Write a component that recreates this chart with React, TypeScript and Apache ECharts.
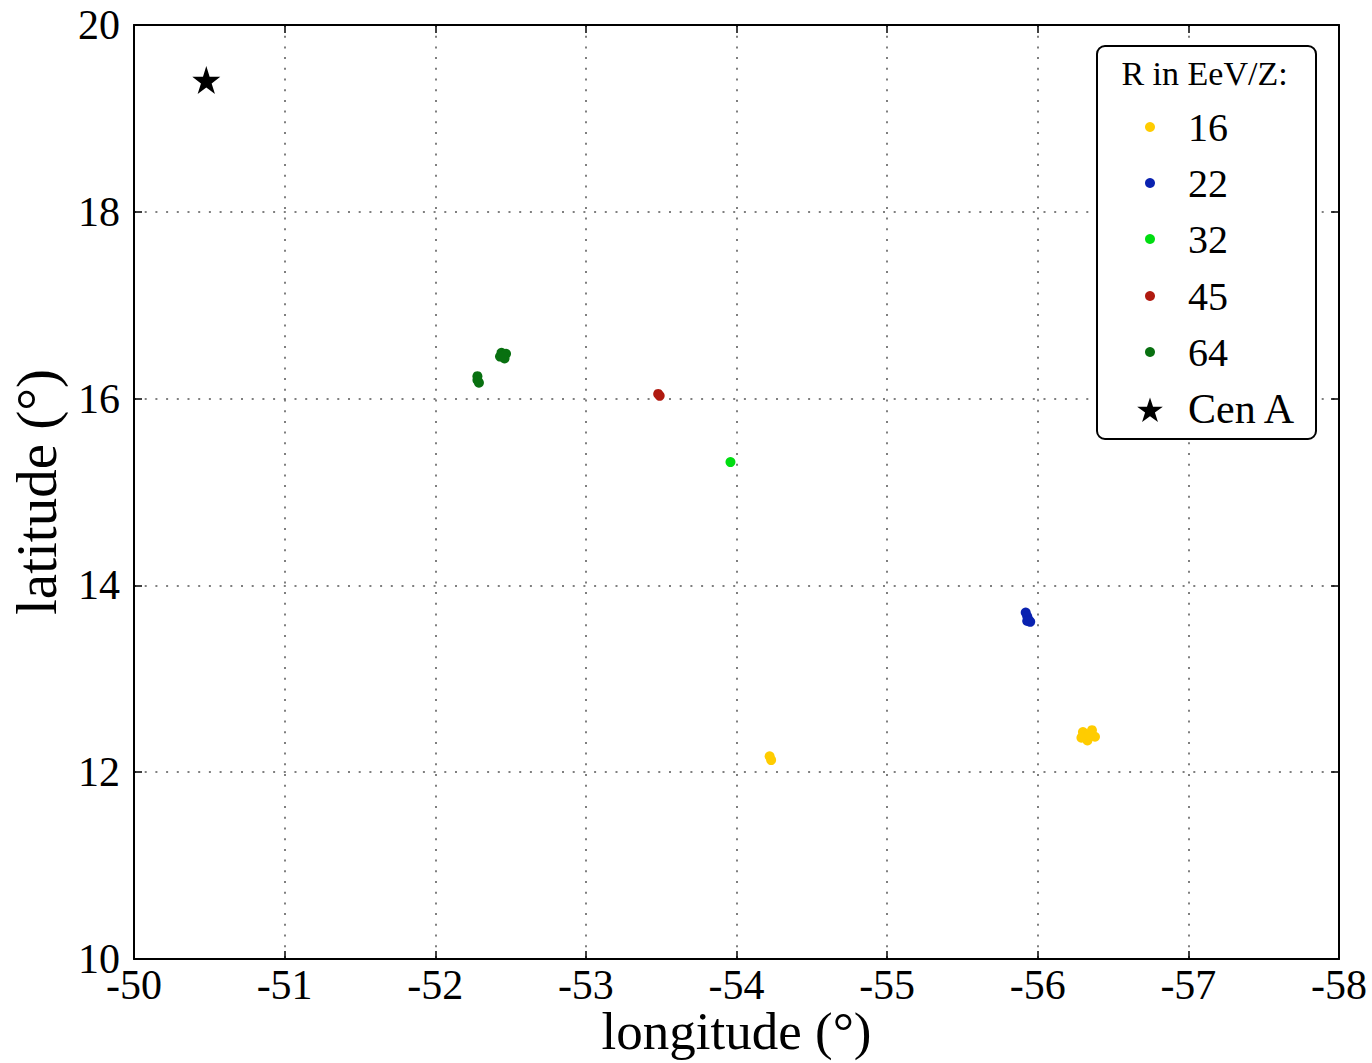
import React, { useEffect, useRef } from "react";
import * as echarts from "echarts";

// ---- data (longitude, latitude in degrees) ----
const legendTitle = "R in EeV/Z:";
const rigidityLabels = ["16", "22", "32", "45", "64"];
const seriesColors = ["#FFCC00", "#0A22B0", "#00DD11", "#B01A10", "#087010"];

const points16 = [
  [-56.30, 12.43], [-56.36, 12.45], [-56.38, 12.38], [-56.33, 12.34], [-56.29, 12.37], [-56.34, 12.40],
  [-54.22, 12.17], [-54.23, 12.13],
];
const points22 = [[-55.92, 13.71], [-55.93, 13.67], [-55.94, 13.63], [-55.95, 13.61], [-55.93, 13.62]];
const points32 = [[-53.96, 15.32]];
const points45 = [[-53.48, 16.05], [-53.49, 16.03]];
const points64 = [
  [-52.44, 16.49], [-52.47, 16.48], [-52.43, 16.45], [-52.46, 16.43], [-52.45, 16.46],
  [-52.28, 16.24], [-52.28, 16.20], [-52.29, 16.17],
];
const cenA = [[-50.48, 19.41]];
const cenALabel = "Cen A";

const xTickMin = -58;
const xTickMax = -50;
const yTickMin = 10;
const yTickMax = 20;

const allSeries = [points16, points22, points32, points45, points64];

function starPoints(cx: number, cy: number, R: number): number[][] {
  const pts: number[][] = [];
  const r = R * 0.382;
  for (let k = 0; k < 10; k++) {
    const a = (-90 + k * 36) * Math.PI / 180;
    const rr = k % 2 === 0 ? R : r;
    pts.push([cx + rr * Math.cos(a), cy + rr * Math.sin(a)]);
  }
  return pts;
}
const starPath = "path://" + starPoints(50, 50, 50).map((p, i) => (i === 0 ? "M" : "L") + p[0].toFixed(2) + " " + p[1].toFixed(2)).join(" ") + " Z";

const SERIF = "'Liberation Serif', 'DejaVu Serif', serif";

export default function App() {
  const ref = useRef<HTMLDivElement>(null);
  useEffect(() => {
    if (!ref.current) return;
    const chart = echarts.init(ref.current, undefined, { renderer: "svg" });
    const gridLine = { show: true, lineStyle: { color: "#555", width: 1.5, type: [2, 8.7] as any } };
    const tick = { show: true, inside: true, length: 8, lineStyle: { color: "#000", width: 1.5 } };
    const axLine = { show: true, lineStyle: { color: "#000", width: 2 } };
    const labelStyle = { fontFamily: SERIF, fontSize: 42, lineHeight: 38, color: "#000" };

    const legendX = 1097, legendY = 46, legendW = 219, legendH = 393;
    const itemYs = [127, 183, 239, 296, 352];
    const graphics: any[] = [
      {
        type: "rect", z: 100,
        shape: { x: legendX, y: legendY, width: legendW, height: legendH, r: 8 },
        style: { fill: "#fff", stroke: "#000", lineWidth: 2 },
      },
      {
        type: "text", z: 101, x: legendX + legendW / 2 - 2, y: 73,
        style: { text: legendTitle, font: `34px ${SERIF}`, fill: "#000", align: "center", verticalAlign: "middle" },
      },
    ];
    rigidityLabels.forEach((lab, i) => {
      graphics.push({ type: "circle", z: 101, shape: { cx: 1150, cy: itemYs[i], r: 5 }, style: { fill: seriesColors[i] } });
      graphics.push({
        type: "text", z: 101, x: 1188, y: itemYs[i],
        style: { text: lab, font: `40px ${SERIF}`, fill: "#000", align: "left", verticalAlign: "middle" },
      });
    });
    graphics.push({ type: "polygon", z: 101, shape: { points: starPoints(1150, 411, 13.5) }, style: { fill: "#000" } });
    graphics.push({
      type: "text", z: 101, x: 1188, y: 409,
      style: { text: cenALabel, font: `42px ${SERIF}`, fill: "#000", align: "left", verticalAlign: "middle" },
    });

    chart.setOption({
      animation: false,
      backgroundColor: "#fff",
      grid: { left: 134, right: 33, top: 25, bottom: 104, containLabel: false, outerBoundsMode: "none" },
      xAxis: [
        {
          type: "value", min: xTickMin, max: xTickMax, interval: 1, inverse: true,
          name: "longitude (°)", nameLocation: "middle", nameGap: 48, nameMoveOverlap: false,
          nameTextStyle: { fontFamily: SERIF, fontSize: 53, lineHeight: 48, color: "#000" },
          axisLine: axLine, axisTick: tick, splitLine: gridLine,
          axisLabel: { ...labelStyle, margin: 7 },
        },
        {
          type: "value", min: xTickMin, max: xTickMax, interval: 1, inverse: true, position: "top",
          axisLine: axLine, axisTick: tick, splitLine: { show: false }, axisLabel: { show: false },
        },
      ],
      yAxis: [
        {
          type: "value", min: yTickMin, max: yTickMax, interval: 2,
          name: "latitude (°)", nameLocation: "middle", nameGap: 72, nameMoveOverlap: false,
          nameTextStyle: { fontFamily: SERIF, fontSize: 57, lineHeight: 52, color: "#000" },
          axisLine: axLine, axisTick: tick, splitLine: gridLine,
          axisLabel: { ...labelStyle, margin: 14 },
        },
        {
          type: "value", min: yTickMin, max: yTickMax, interval: 2, position: "right",
          axisLine: axLine, axisTick: tick, splitLine: { show: false }, axisLabel: { show: false },
        },
      ],
      series: [
        ...allSeries.map((data, i) => ({
          type: "scatter", name: rigidityLabels[i], data, symbol: "circle", symbolSize: 10,
          itemStyle: { color: seriesColors[i], opacity: 1 }, xAxisIndex: 0, yAxisIndex: 0,
        })),
        {
          type: "scatter", name: cenALabel, data: cenA, symbol: starPath, symbolSize: 28,
          itemStyle: { color: "#000", opacity: 1 }, xAxisIndex: 0, yAxisIndex: 0,
        },
      ],
      graphic: graphics,
    });
    return () => chart.dispose();
  }, []);
  return <div ref={ref} style={{ position: "absolute", left: 0, top: 0, width: 1372, height: 1063 }} />;
}
